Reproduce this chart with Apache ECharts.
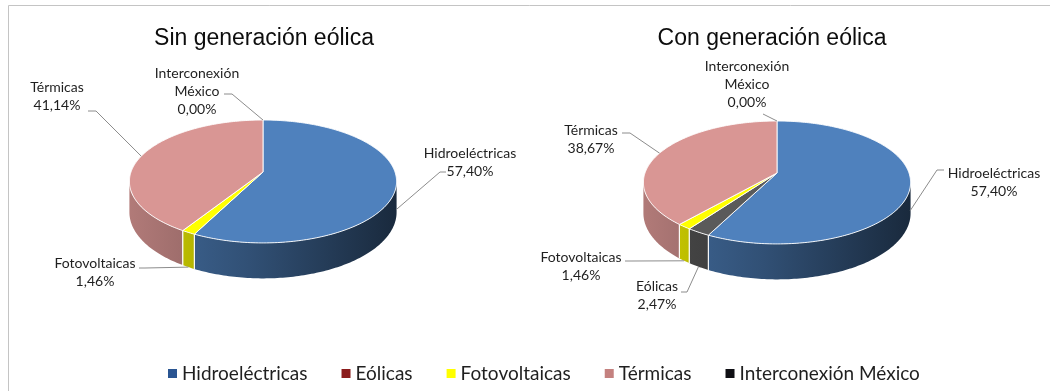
<!DOCTYPE html>
<html>
<head>
<meta charset="utf-8">
<script src="https://cdn.jsdelivr.net/npm/echarts@6/dist/echarts.min.js"></script>
<style>
  html, body { margin: 0; padding: 0; background: #ffffff; }
  #chart { width: 1050px; height: 391px; }
</style>
</head>
<body>
<div id="chart"></div>
<script>
// Generation mix (% of energy) with and without wind generation
const categories = ['Hidroeléctricas', 'Eólicas', 'Fotovoltaicas', 'Térmicas', 'Interconexión México'];
const scenarios = ['Sin generación eólica', 'Con generación eólica'];
const sinEolica = [57.40, null, 1.46, 41.14, 0.00];
const conEolica = [57.40, 2.47, 1.46, 38.67, 0.00];
const scenarioValues = [sinEolica, conEolica];

// slice faces and legend swatches
const sliceColors = ['#4f81bd', '#5a5a5a', '#ffff00', '#d99694', '#0d0d0d'];
const legendColors = ['#2a5592', '#8b1c1c', '#ffff00', '#c4817f', '#0f0f14'];

// 3D pie geometry
const PIES = [{ cx: 263, cy: 172 }, { cx: 777, cy: 173 }];
const TITLE_X = [264, 772];
const RX = 132, RY = 60, DEPTH = 30, PERSP = 0.154;
const LABEL_FONT = '14px Lato, "Noto Sans", sans-serif';

// label placement relative to each pie centre: text block centre,
// leader start/elbow, and how far down the side wall the leader ends
const LABEL_LAYOUT = [
  {
    0: { text: [207, -10], leader: [[183, 0], [177, 0]], drop: 0.75 },
    2: { text: [-168, 100], leader: [[-124, 96], [-118, 96]], drop: 1 },
    3: { text: [-206, -76], leader: [[-175, -61], [-167, -61]], drop: 0 },
    4: { text: [-66, -81], leader: [[-39, -78], [-31, -78]], drop: 0 }
  },
  {
    0: { text: [217, 9], leader: [[167, -3], [160, -3]], drop: 0.75 },
    1: { text: [-120, 122], leader: [[-96, 119], [-90, 119]], drop: 1 },
    2: { text: [-196, 93], leader: [[-152, 88], [-145, 88]], drop: 1 },
    3: { text: [-186, -34], leader: [[-155, -40], [-147, -40]], drop: 0 },
    4: { text: [-30, -89], leader: [[-14, -59], [-14, -59]], drop: 0 }
  }
];

// cumulative start (in %) of each slice, clockwise from 12 o'clock
const scenarioStarts = scenarioValues.map(vals => {
  let acc = 0;
  return vals.map(v => { const s = acc; acc += (v || 0); return s; });
});

function project(g, theta, drop) {
  const u = Math.sin(theta), v = -Math.cos(theta);
  const s = 1 / (1 - PERSP * v);
  return [g.cx + RX * u * s, g.cy + RY * v * s + (drop || 0) * DEPTH * s];
}

function arc(g, t0, t1, drop) {
  const n = Math.max(2, Math.ceil((t1 - t0) / (Math.PI / 180)));
  const pts = [];
  for (let i = 0; i <= n; i++) pts.push(project(g, t0 + (t1 - t0) * i / n, drop));
  return pts;
}

function shade(hex, f) {
  const n = parseInt(hex.slice(1), 16);
  const r = Math.round(((n >> 16) & 255) * f);
  const gg = Math.round(((n >> 8) & 255) * f);
  const b = Math.round((n & 255) * f);
  return 'rgb(' + r + ',' + gg + ',' + b + ')';
}

function wallFill(g, color) {
  return new echarts.graphic.LinearGradient(g.cx - RX * 1.03, 0, g.cx + RX * 1.03, 0, [
    { offset: 0, color: shade(color, 0.82) },
    { offset: 0.45, color: shade(color, 0.62) },
    { offset: 1, color: shade(color, 0.32) }
  ], true);
}

function formatPct(v) {
  return v.toFixed(2).replace('.', ',') + '%';
}

function makeRenderer(catIdx) {
  return function (params, api) {
    const s = api.value(0);
    const value = api.value(1);
    const start = api.value(2);
    if (value == null || isNaN(value)) return;
    const g = PIES[s];
    const a0 = start / 100 * 2 * Math.PI;
    const a1 = (start + value) / 100 * 2 * Math.PI;
    const color = sliceColors[catIdx];
    const children = [];
    const w0 = Math.acos(-PERSP), w1 = 2 * Math.PI - w0;

    if (a1 > a0) {
      const t0 = Math.max(a0, w0), t1 = Math.min(a1, w1);
      if (t1 > t0) {
        const top = arc(g, t0, t1, 0);
        const bottom = arc(g, t0, t1, 1).reverse();
        children.push({
          type: 'polygon', z2: 1,
          shape: { points: top.concat(bottom) },
          style: { fill: wallFill(g, color) }
        });
        [a0, a1].forEach(a => {
          if (a > w0 && a < w1) {
            const p = project(g, a, 0), q = project(g, a, 1);
            children.push({
              type: 'line', z2: 2,
              shape: { x1: p[0], y1: p[1], x2: q[0], y2: q[1] },
              style: { stroke: 'rgba(255,255,255,0.85)', lineWidth: 1 }
            });
          }
        });
      }
      children.push({
        type: 'polygon', z2: 10,
        shape: { points: [[g.cx, g.cy]].concat(arc(g, a0, a1, 0)) },
        style: { fill: color, stroke: 'rgba(255,255,255,0.9)', lineWidth: 1, lineJoin: 'round' }
      });
    }

    const lay = LABEL_LAYOUT[s][catIdx];
    if (lay) {
      const mid = (a0 + a1) / 2;
      const end = project(g, mid, lay.drop);
      const pts = lay.leader.map(p => [g.cx + p[0], g.cy + p[1]]).concat([end]);
      children.push({
        type: 'polyline', z2: 15,
        shape: { points: pts },
        style: { stroke: '#8c8c8c', lineWidth: 1, fill: 'none' }
      });
      children.push({
        type: 'text', z2: 20,
        style: {
          text: categories[catIdx].split(' ').join('\n') + '\n' + formatPct(value),
          x: g.cx + lay.text[0], y: g.cy + lay.text[1],
          align: 'center', verticalAlign: 'middle',
          font: LABEL_FONT, lineHeight: 18, fill: '#1f1f1f'
        }
      });
    }
    return { type: 'group', children: children };
  };
}

const series = categories.map((name, i) => ({
  type: 'custom',
  name: name,
  coordinateSystem: 'none',
  silent: true,
  itemStyle: { color: legendColors[i] },
  renderItem: makeRenderer(i),
  data: scenarioValues.map((vals, s) => [s, vals[i], scenarioStarts[s][i]])
}));

const chart = echarts.init(document.getElementById('chart'), null, { renderer: 'canvas' });
chart.setOption({
  animation: false,
  backgroundColor: '#ffffff',
  title: scenarios.map((t, i) => ({
    text: t,
    left: TITLE_X[i],
    top: 27,
    padding: 0,
    textAlign: 'center',
    textStyle: { fontFamily: '"Liberation Sans", Arial, sans-serif', fontSize: 23, fontWeight: 'normal', color: '#0d0d0d' }
  })),
  legend: {
    data: categories,
    left: 163,
    top: 359,
    icon: 'rect',
    itemWidth: 9,
    itemHeight: 9,
    itemGap: 34,
    selectedMode: false,
    textStyle: { fontFamily: 'Lato, "Noto Sans", sans-serif', fontSize: 19, color: '#1f1f1f' }
  },
  graphic: [{
    type: 'rect', silent: true, z: -10,
    shape: { x: 8.5, y: 5.5, width: 1100, height: 500 },
    style: { fill: 'none', stroke: '#c4c4c4', lineWidth: 1 }
  }],
  series: series
});
</script>
</body>
</html>
